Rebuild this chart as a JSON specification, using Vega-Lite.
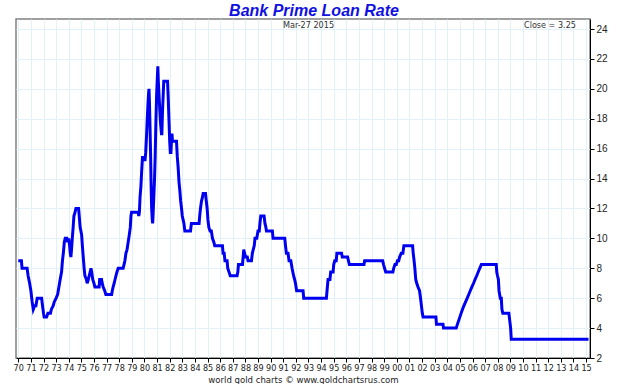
{
  "$schema": "https://vega.github.io/schema/vega-lite/v6.json",
  "width": 574,
  "height": 339,
  "autosize": "none",
  "padding": {"left": 16, "top": 19, "right": 34, "bottom": 26},
  "background": "white",
  "config": {"view": {"stroke": "#808080", "strokeWidth": 1.5}, "font": "Liberation Sans"},
  "title": {"text": "Bank Prime Loan Rate", "font": "Liberation Sans", "fontSize": 16, "fontWeight": "bold", "fontStyle": "italic", "color": "#1010e0", "anchor": "middle", "dx": 11, "offset": 0},
  "data": {"values": [
    {"t": 1970.0, "rate": 8.5}, {"t": 1970.25, "rate": 8.5}, {"t": 1970.3, "rate": 8.0}, {"t": 1970.7, "rate": 8.0},
    {"t": 1970.78, "rate": 7.5}, {"t": 1970.9, "rate": 7.0}, {"t": 1971.0, "rate": 6.5}, {"t": 1971.1, "rate": 5.75},
    {"t": 1971.19, "rate": 5.25}, {"t": 1971.3, "rate": 5.5}, {"t": 1971.4, "rate": 5.5}, {"t": 1971.5, "rate": 6.0},
    {"t": 1971.85, "rate": 6.0}, {"t": 1971.92, "rate": 5.5}, {"t": 1972.0, "rate": 5.0}, {"t": 1972.05, "rate": 4.75},
    {"t": 1972.25, "rate": 4.75}, {"t": 1972.35, "rate": 5.0}, {"t": 1972.55, "rate": 5.0}, {"t": 1972.62, "rate": 5.25},
    {"t": 1972.77, "rate": 5.5}, {"t": 1972.85, "rate": 5.75}, {"t": 1973.0, "rate": 6.0}, {"t": 1973.12, "rate": 6.25},
    {"t": 1973.22, "rate": 6.75}, {"t": 1973.32, "rate": 7.25}, {"t": 1973.43, "rate": 7.75}, {"t": 1973.5, "rate": 8.5},
    {"t": 1973.57, "rate": 9.0}, {"t": 1973.65, "rate": 9.75}, {"t": 1973.72, "rate": 10.0}, {"t": 1973.85, "rate": 10.0},
    {"t": 1973.92, "rate": 9.75}, {"t": 1974.0, "rate": 10.0}, {"t": 1974.07, "rate": 9.5}, {"t": 1974.12, "rate": 9.0},
    {"t": 1974.17, "rate": 8.75}, {"t": 1974.22, "rate": 9.25}, {"t": 1974.28, "rate": 10.0}, {"t": 1974.35, "rate": 10.75},
    {"t": 1974.41, "rate": 11.5}, {"t": 1974.5, "rate": 11.75}, {"t": 1974.57, "rate": 12.0}, {"t": 1974.78, "rate": 12.0},
    {"t": 1974.83, "rate": 11.5}, {"t": 1974.9, "rate": 10.75}, {"t": 1975.02, "rate": 10.25}, {"t": 1975.08, "rate": 9.5},
    {"t": 1975.15, "rate": 8.75}, {"t": 1975.22, "rate": 8.0}, {"t": 1975.28, "rate": 7.5}, {"t": 1975.4, "rate": 7.25},
    {"t": 1975.46, "rate": 7.0}, {"t": 1975.55, "rate": 7.25}, {"t": 1975.62, "rate": 7.5}, {"t": 1975.7, "rate": 7.75},
    {"t": 1975.76, "rate": 8.0}, {"t": 1975.82, "rate": 7.75}, {"t": 1975.9, "rate": 7.25}, {"t": 1976.0, "rate": 7.0},
    {"t": 1976.07, "rate": 6.75}, {"t": 1976.41, "rate": 6.75}, {"t": 1976.45, "rate": 7.25}, {"t": 1976.6, "rate": 7.25},
    {"t": 1976.65, "rate": 7.0}, {"t": 1976.73, "rate": 6.75}, {"t": 1976.85, "rate": 6.5}, {"t": 1976.94, "rate": 6.25},
    {"t": 1977.4, "rate": 6.25}, {"t": 1977.45, "rate": 6.5}, {"t": 1977.52, "rate": 6.75}, {"t": 1977.6, "rate": 7.0},
    {"t": 1977.67, "rate": 7.25}, {"t": 1977.74, "rate": 7.5}, {"t": 1977.82, "rate": 7.75}, {"t": 1977.92, "rate": 8.0},
    {"t": 1978.31, "rate": 8.0}, {"t": 1978.38, "rate": 8.25}, {"t": 1978.45, "rate": 8.5}, {"t": 1978.53, "rate": 9.0},
    {"t": 1978.62, "rate": 9.25}, {"t": 1978.71, "rate": 9.75}, {"t": 1978.8, "rate": 10.25}, {"t": 1978.88, "rate": 10.75},
    {"t": 1978.93, "rate": 11.5}, {"t": 1978.98, "rate": 11.75}, {"t": 1979.5, "rate": 11.75}, {"t": 1979.55, "rate": 11.5},
    {"t": 1979.6, "rate": 11.75}, {"t": 1979.65, "rate": 12.75}, {"t": 1979.72, "rate": 13.5}, {"t": 1979.78, "rate": 14.5},
    {"t": 1979.85, "rate": 15.5}, {"t": 1979.95, "rate": 15.25}, {"t": 1980.05, "rate": 15.25}, {"t": 1980.1, "rate": 15.75},
    {"t": 1980.16, "rate": 16.75}, {"t": 1980.21, "rate": 17.75}, {"t": 1980.28, "rate": 19.0}, {"t": 1980.33, "rate": 19.75},
    {"t": 1980.36, "rate": 20.0}, {"t": 1980.4, "rate": 19.0}, {"t": 1980.44, "rate": 17.5}, {"t": 1980.49, "rate": 15.5},
    {"t": 1980.53, "rate": 13.5}, {"t": 1980.57, "rate": 12.0}, {"t": 1980.62, "rate": 11.25}, {"t": 1980.65, "rate": 11.0},
    {"t": 1980.68, "rate": 11.5}, {"t": 1980.74, "rate": 12.75}, {"t": 1980.8, "rate": 14.0}, {"t": 1980.85, "rate": 15.5},
    {"t": 1980.9, "rate": 17.5}, {"t": 1980.96, "rate": 19.5}, {"t": 1981.01, "rate": 20.5}, {"t": 1981.06, "rate": 21.5},
    {"t": 1981.1, "rate": 20.5}, {"t": 1981.16, "rate": 19.5}, {"t": 1981.22, "rate": 18.5}, {"t": 1981.27, "rate": 17.75},
    {"t": 1981.35, "rate": 17.0}, {"t": 1981.38, "rate": 17.0}, {"t": 1981.43, "rate": 18.5}, {"t": 1981.48, "rate": 19.5},
    {"t": 1981.53, "rate": 20.5}, {"t": 1981.83, "rate": 20.5}, {"t": 1981.88, "rate": 19.5}, {"t": 1981.92, "rate": 18.5},
    {"t": 1981.96, "rate": 17.5}, {"t": 1982.0, "rate": 16.5}, {"t": 1982.05, "rate": 15.75}, {"t": 1982.1, "rate": 15.75},
    {"t": 1982.14, "rate": 16.5}, {"t": 1982.18, "rate": 17.0}, {"t": 1982.22, "rate": 16.5}, {"t": 1982.54, "rate": 16.5},
    {"t": 1982.6, "rate": 15.5}, {"t": 1982.67, "rate": 14.75}, {"t": 1982.74, "rate": 13.75}, {"t": 1982.8, "rate": 13.25},
    {"t": 1982.87, "rate": 12.5}, {"t": 1982.94, "rate": 12.0}, {"t": 1983.0, "rate": 11.5}, {"t": 1983.06, "rate": 11.25},
    {"t": 1983.13, "rate": 11.0}, {"t": 1983.2, "rate": 10.5}, {"t": 1983.65, "rate": 10.5}, {"t": 1983.72, "rate": 11.0},
    {"t": 1984.33, "rate": 11.0}, {"t": 1984.38, "rate": 11.5}, {"t": 1984.44, "rate": 12.0}, {"t": 1984.52, "rate": 12.5},
    {"t": 1984.6, "rate": 12.75}, {"t": 1984.65, "rate": 13.0}, {"t": 1984.84, "rate": 13.0}, {"t": 1984.9, "rate": 12.5},
    {"t": 1984.97, "rate": 12.0}, {"t": 1985.03, "rate": 11.25}, {"t": 1985.1, "rate": 10.75}, {"t": 1985.2, "rate": 10.5},
    {"t": 1985.3, "rate": 10.5}, {"t": 1985.39, "rate": 10.0}, {"t": 1985.5, "rate": 9.75}, {"t": 1985.57, "rate": 9.5},
    {"t": 1986.18, "rate": 9.5}, {"t": 1986.23, "rate": 9.0}, {"t": 1986.32, "rate": 9.0}, {"t": 1986.38, "rate": 8.5},
    {"t": 1986.55, "rate": 8.5}, {"t": 1986.6, "rate": 8.0}, {"t": 1986.7, "rate": 7.75}, {"t": 1986.8, "rate": 7.5},
    {"t": 1987.34, "rate": 7.5}, {"t": 1987.4, "rate": 7.75}, {"t": 1987.45, "rate": 8.25}, {"t": 1987.77, "rate": 8.25},
    {"t": 1987.82, "rate": 8.75}, {"t": 1987.87, "rate": 9.25}, {"t": 1987.93, "rate": 9.0}, {"t": 1988.03, "rate": 8.75},
    {"t": 1988.15, "rate": 8.75}, {"t": 1988.21, "rate": 8.5}, {"t": 1988.48, "rate": 8.5}, {"t": 1988.55, "rate": 9.0},
    {"t": 1988.62, "rate": 9.25}, {"t": 1988.7, "rate": 9.5}, {"t": 1988.76, "rate": 10.0}, {"t": 1988.9, "rate": 10.0},
    {"t": 1989.0, "rate": 10.5}, {"t": 1989.1, "rate": 10.5}, {"t": 1989.15, "rate": 11.0}, {"t": 1989.22, "rate": 11.5},
    {"t": 1989.48, "rate": 11.5}, {"t": 1989.55, "rate": 11.0}, {"t": 1989.62, "rate": 10.75}, {"t": 1989.67, "rate": 10.5},
    {"t": 1990.14, "rate": 10.5}, {"t": 1990.19, "rate": 10.0}, {"t": 1991.12, "rate": 10.0}, {"t": 1991.18, "rate": 9.5},
    {"t": 1991.25, "rate": 9.0}, {"t": 1991.38, "rate": 9.0}, {"t": 1991.46, "rate": 8.5}, {"t": 1991.6, "rate": 8.5},
    {"t": 1991.7, "rate": 8.0}, {"t": 1991.82, "rate": 7.5}, {"t": 1991.9, "rate": 7.25}, {"t": 1991.97, "rate": 7.0},
    {"t": 1992.06, "rate": 6.5}, {"t": 1992.57, "rate": 6.5}, {"t": 1992.62, "rate": 6.0}, {"t": 1994.42, "rate": 6.0},
    {"t": 1994.47, "rate": 6.5}, {"t": 1994.55, "rate": 7.25}, {"t": 1994.7, "rate": 7.25}, {"t": 1994.76, "rate": 7.75},
    {"t": 1994.95, "rate": 7.75}, {"t": 1995.0, "rate": 8.25}, {"t": 1995.08, "rate": 8.5}, {"t": 1995.2, "rate": 8.5},
    {"t": 1995.25, "rate": 9.0}, {"t": 1995.62, "rate": 9.0}, {"t": 1995.68, "rate": 8.75}, {"t": 1996.1, "rate": 8.75},
    {"t": 1996.17, "rate": 8.5}, {"t": 1996.24, "rate": 8.25}, {"t": 1997.4, "rate": 8.25}, {"t": 1997.45, "rate": 8.5},
    {"t": 1998.88, "rate": 8.5}, {"t": 1998.95, "rate": 8.25}, {"t": 1999.03, "rate": 8.0}, {"t": 1999.12, "rate": 7.75},
    {"t": 1999.69, "rate": 7.75}, {"t": 1999.75, "rate": 8.0}, {"t": 1999.85, "rate": 8.25}, {"t": 1999.96, "rate": 8.25},
    {"t": 2000.05, "rate": 8.5}, {"t": 2000.15, "rate": 8.5}, {"t": 2000.22, "rate": 8.75}, {"t": 2000.35, "rate": 9.0},
    {"t": 2000.48, "rate": 9.0}, {"t": 2000.56, "rate": 9.5}, {"t": 2001.25, "rate": 9.5}, {"t": 2001.3, "rate": 9.0},
    {"t": 2001.37, "rate": 8.5}, {"t": 2001.43, "rate": 8.0}, {"t": 2001.5, "rate": 7.25}, {"t": 2001.58, "rate": 7.0},
    {"t": 2001.68, "rate": 6.75}, {"t": 2001.8, "rate": 6.5}, {"t": 2001.88, "rate": 6.0}, {"t": 2001.95, "rate": 5.5},
    {"t": 2002.02, "rate": 5.0}, {"t": 2002.08, "rate": 4.75}, {"t": 2003.1, "rate": 4.75}, {"t": 2003.14, "rate": 4.25},
    {"t": 2003.66, "rate": 4.25}, {"t": 2003.7, "rate": 4.0}, {"t": 2004.71, "rate": 4.0}, {"t": 2004.8, "rate": 4.25},
    {"t": 2004.9, "rate": 4.5}, {"t": 2005.0, "rate": 4.75}, {"t": 2005.1, "rate": 5.0}, {"t": 2005.2, "rate": 5.25},
    {"t": 2005.32, "rate": 5.5}, {"t": 2005.45, "rate": 5.75}, {"t": 2005.58, "rate": 6.0}, {"t": 2005.7, "rate": 6.25},
    {"t": 2005.82, "rate": 6.5}, {"t": 2005.95, "rate": 6.75}, {"t": 2006.08, "rate": 7.0}, {"t": 2006.2, "rate": 7.25},
    {"t": 2006.33, "rate": 7.5}, {"t": 2006.45, "rate": 7.75}, {"t": 2006.57, "rate": 8.0}, {"t": 2006.7, "rate": 8.25},
    {"t": 2007.88, "rate": 8.25}, {"t": 2007.92, "rate": 7.75}, {"t": 2007.98, "rate": 7.5}, {"t": 2008.05, "rate": 7.25},
    {"t": 2008.1, "rate": 6.5}, {"t": 2008.2, "rate": 6.0}, {"t": 2008.28, "rate": 6.0}, {"t": 2008.33, "rate": 5.25},
    {"t": 2008.4, "rate": 5.0}, {"t": 2008.88, "rate": 5.0}, {"t": 2008.95, "rate": 4.5}, {"t": 2009.02, "rate": 4.0},
    {"t": 2009.07, "rate": 3.25}, {"t": 2015.19, "rate": 3.25}
  ]},
  "layer": [
    {
      "mark": {"type": "line", "color": "#0000f0", "strokeWidth": 3},
      "encoding": {
        "x": {"field": "t", "type": "quantitative",
          "scale": {"domain": [1969.82, 2015.31], "nice": false, "zero": false},
          "axis": {"values": [1970,1971,1972,1973,1974,1975,1976,1977,1978,1979,1980,1981,1982,1983,1984,1985,1986,1987,1988,1989,1990,1991,1992,1993,1994,1995,1996,1997,1998,1999,2000,2001,2002,2003,2004,2005,2006,2007,2008,2009,2010,2011,2012,2013,2014,2015],
            "tickCount": 100,
            "labelExpr": "slice(toString(datum.value), 2)", "labelOverlap": false, "labelFlush": false,
            "labelFont": "Liberation Sans Narrow, DejaVu Sans Condensed, sans-serif", "labelFontSize": 9, "labelColor": "#222",
            "tickColor": "#000", "tickSize": 4, "domainColor": "#000", "labelPadding": 1,
            "grid": true, "gridColor": "#e2f0f8",
            "title": "world gold charts © www.goldchartsrus.com", "titleFont": "Liberation Sans Narrow, DejaVu Sans Condensed, sans-serif", "titleFontSize": 9.5, "titleFontWeight": "normal", "titleColor": "#222", "titlePadding": 2}},
        "y": {"field": "rate", "type": "quantitative",
          "scale": {"domain": [2, 24.67], "nice": false, "zero": false},
          "axis": {"orient": "right", "values": [2,4,6,8,10,12,14,16,18,20,22,24], "format": "d", "tickCount": 100, "labelOverlap": false, "grid": true, "gridColor": "#e2f0f8",
            "domainColor": "#000", "tickColor": "#000", "tickSize": 4, "labelFontSize": 10, "labelPadding": 2, "labelColor": "#222", "title": null}}
      }
    },
    {
      "data": {"values": [{"label": "Mar-27  2015"}]},
      "mark": {"type": "text", "fontSize": 9, "color": "#333", "font": "Liberation Sans Narrow, DejaVu Sans Condensed, sans-serif", "baseline": "middle", "align": "center"},
      "encoding": {"x": {"datum": 1993.0, "type": "quantitative"}, "y": {"datum": 24.25, "type": "quantitative"}, "text": {"field": "label"}}
    },
    {
      "data": {"values": [{"label": "Close = 3.25"}]},
      "mark": {"type": "text", "fontSize": 9, "color": "#333", "font": "Liberation Sans Narrow, DejaVu Sans Condensed, sans-serif", "baseline": "middle", "align": "right"},
      "encoding": {"x": {"datum": 2014.2, "type": "quantitative"}, "y": {"datum": 24.25, "type": "quantitative"}, "text": {"field": "label"}}
    }
  ]
}
